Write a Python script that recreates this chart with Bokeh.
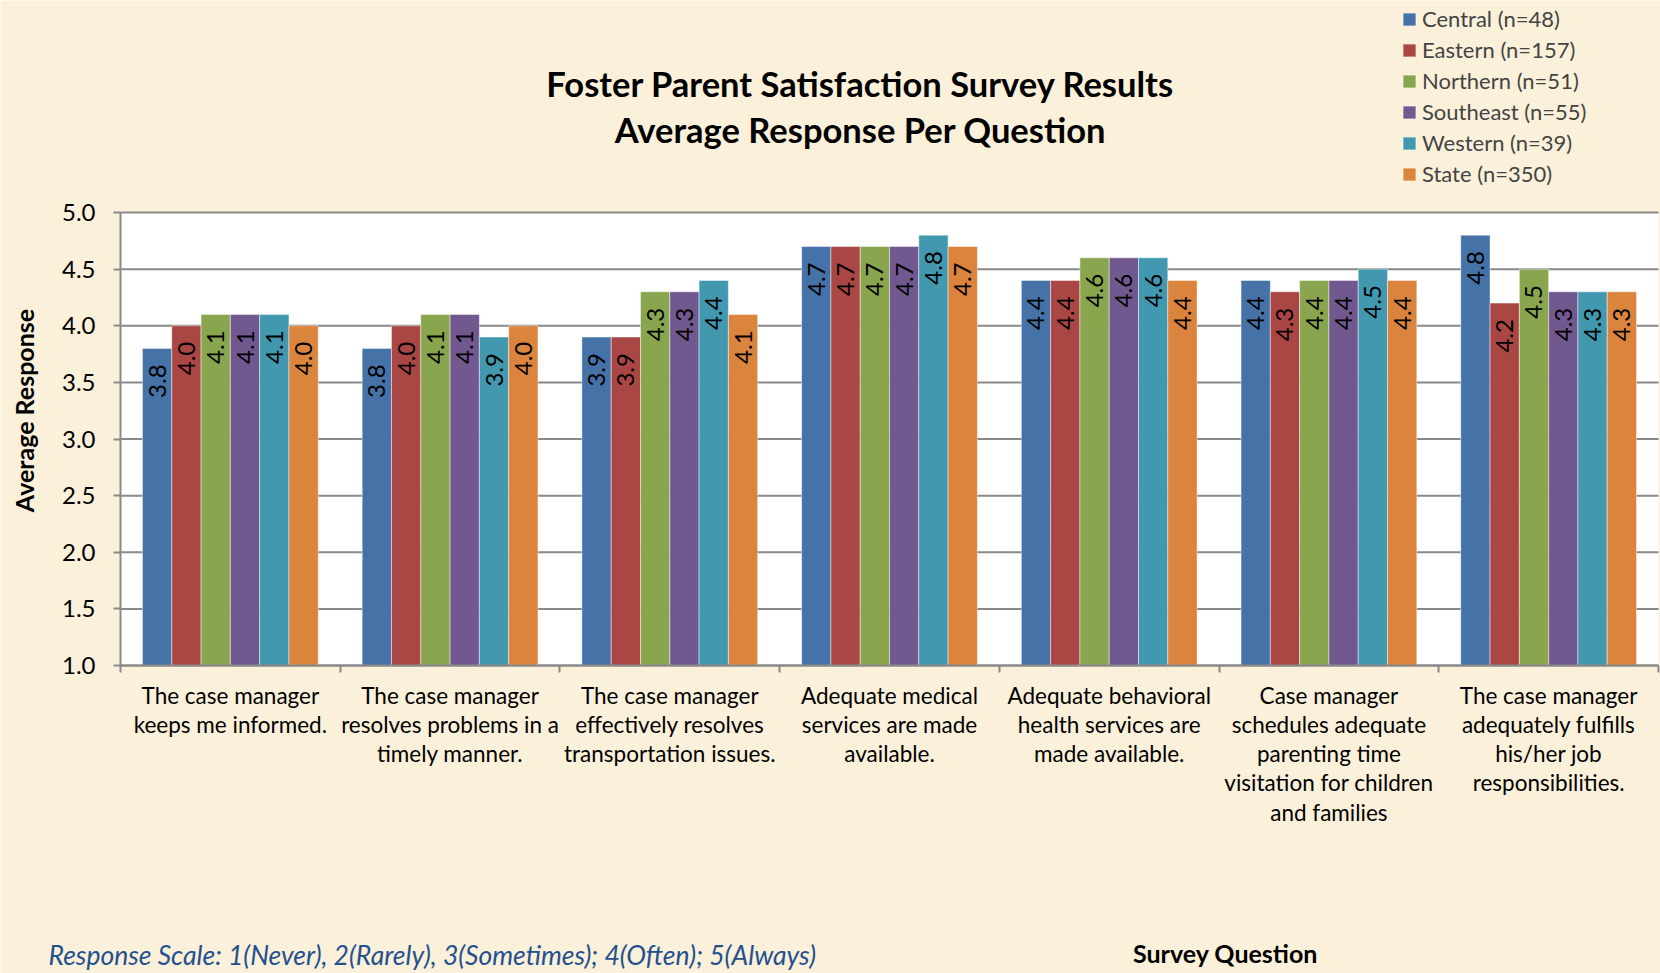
import numpy as np
from bokeh.plotting import figure
from bokeh.models import (ColumnDataSource, Range1d, FixedTicker, Legend, LegendItem,
                          Label, NumeralTickFormatter, LinearAxis, BoxAnnotation)
from bokeh.core.properties import value
from bokeh.embed import file_html
from bokeh.resources import INLINE

# ---------------- data ----------------
questions = [
    "The case manager\nkeeps me informed.",
    "The case manager\nresolves problems in a\ntimely manner.",
    "The case manager\neffectively resolves\ntransportation issues.",
    "Adequate medical\nservices are made\navailable.",
    "Adequate behavioral\nhealth services are\nmade available.",
    "Case manager\nschedules adequate\nparenting time\nvisitation for children\nand families",
    "The case manager\nadequately fulfills\nhis/her job\nresponsibilities.",
]
series_names = ["Central (n=48)", "Eastern (n=157)", "Northern (n=51)",
                "Southeast (n=55)", "Western (n=39)", "State (n=350)"]
central = [3.8, 3.8, 3.9, 4.7, 4.4, 4.4, 4.8]
eastern = [4.0, 4.0, 3.9, 4.7, 4.4, 4.3, 4.2]
northern = [4.1, 4.1, 4.3, 4.7, 4.6, 4.4, 4.5]
southeast = [4.1, 4.1, 4.3, 4.7, 4.6, 4.4, 4.3]
western = [4.1, 3.9, 4.4, 4.8, 4.6, 4.5, 4.3]
state = [4.0, 4.0, 4.1, 4.7, 4.4, 4.4, 4.3]
y_ticks = [1.0, 1.5, 2.0, 2.5, 3.0, 3.5, 4.0, 4.5, 5.0]
series_values = [central, eastern, northern, southeast, western, state]
colors = ["#4572A7", "#AA4643", "#89A54E", "#71588F", "#4198AF", "#DB843D"]

FONT = "Lato"
BG = "#FBF0D9"
GRID = "#898989"

W, H = 1660, 973
n_q = len(questions)
Y_MIN, Y_MAX = y_ticks[0], y_ticks[-1]

# pixel placement of the value area inside the canvas
PLOT_L, PLOT_R, PLOT_T, PLOT_B = 120, 1658, 212, 665
sx = (PLOT_R - PLOT_L) / n_q              # px per x unit
sy = (PLOT_B - PLOT_T) / (Y_MAX - Y_MIN)  # px per y unit

def xd(px):  # canvas px -> data x
    return (px - PLOT_L) / sx

def yd(py):  # canvas px (from top) -> data y
    return Y_MIN + (PLOT_B - py) / sy

p = figure(width=W, height=H, output_backend="svg", toolbar_location=None,
           x_range=Range1d(xd(0), xd(W)), y_range=Range1d(yd(H), yd(0)),
           x_axis_type=None, y_axis_type=None,
           min_border=0, min_border_left=0, min_border_right=0,
           min_border_top=0, min_border_bottom=0)
p.background_fill_color = BG
p.border_fill_color = BG
p.outline_line_color = None

# white plotting area
p.add_layout(BoxAnnotation(left=0, right=n_q, bottom=Y_MIN, top=Y_MAX,
                           fill_color="white", fill_alpha=1, line_color=None,
                           level="underlay"))

# horizontal gridlines
p.segment(x0=0, x1=n_q, y0=y_ticks, y1=y_ticks, line_color=GRID, line_width=2)

# bars
group_w = 0.8
bar_w = group_w / len(series_names)
centers = np.arange(n_q) + 0.5
items = []
for j, (name, vals, col) in enumerate(zip(series_names, series_values, colors)):
    xs = centers - group_w / 2 + bar_w * (j + 0.5)
    src = ColumnDataSource(dict(x=xs, top=vals, lab=["%.1f" % v for v in vals]))
    r = p.vbar(x="x", top="top", bottom=Y_MIN, width=bar_w, source=src,
               fill_color=col, line_color="white", line_alpha=0.45, line_width=1)
    p.text(x="x", y="top", text="lab", source=src, angle=np.pi / 2,
           text_align="right", text_baseline="middle", y_offset=16,
           text_font=value(FONT), text_font_size="24px", text_color="black")
    items.append(LegendItem(label=name, renderers=[r]))

# y axis
ya = LinearAxis(fixed_location=0, bounds=(Y_MIN, Y_MAX))
ya.ticker = FixedTicker(ticks=y_ticks)
ya.formatter = NumeralTickFormatter(format="0.0")
ya.axis_line_color = GRID
ya.axis_line_width = 2
ya.major_tick_line_color = GRID
ya.major_tick_line_width = 2
ya.major_tick_out = 7
ya.major_tick_in = 0
ya.minor_tick_line_color = None
ya.major_label_text_font = FONT
ya.major_label_text_font_size = "24px"
ya.major_label_text_color = "black"
ya.major_label_standoff = 18
p.add_layout(ya, "left")

# x axis
xa = LinearAxis(fixed_location=Y_MIN, bounds=(0, n_q))
xa.ticker = FixedTicker(ticks=list(centers), minor_ticks=list(range(n_q + 1)))
xa.major_label_overrides = {float(c): q for c, q in zip(centers, questions)}
xa.axis_line_color = GRID
xa.axis_line_width = 2
xa.major_tick_out = 0
xa.major_tick_in = 0
xa.minor_tick_line_color = GRID
xa.minor_tick_line_width = 2
xa.minor_tick_out = 7
xa.minor_tick_in = 0
xa.major_label_text_font = FONT
xa.major_label_text_font_size = "22.5px"
xa.major_label_text_color = "black"
xa.major_label_text_line_height = 1.085
xa.major_label_standoff = 9
p.add_layout(xa, "below")

# legend (inside the canvas-wide frame, top right)
legend = Legend(items=items, location=(1401, H - 187), orientation="vertical",
                label_text_font=FONT, label_text_font_size="22px",
                glyph_width=16, glyph_height=16, label_standoff=5,
                label_height=22, spacing=4, padding=0, margin=0,
                border_line_color=None, background_fill_alpha=0)
p.add_layout(legend, "center")

def add_label(text, px, py, align, size, style="normal", color="black", angle=0.0):
    p.add_layout(Label(x=xd(px), y=yd(py), text=text, angle=angle,
                       text_align=align, text_baseline="middle",
                       text_font=FONT, text_font_size=size,
                       text_font_style=style, text_color=color))

add_label("Foster Parent Satisfaction Survey Results", 860, 83, "center", "34.5px", "bold")
add_label("Average Response Per Question", 860, 129, "center", "34.5px", "bold")
add_label("Average Response", 23, 410, "center", "25px", "bold", angle=np.pi / 2)
add_label("Response Scale:  1(Never), 2(Rarely), 3(Sometimes); 4(Often); 5(Always)",
          48, 954, "left", "26.5px", "italic", "#24508F")
add_label("Survey Question", 1225, 952, "center", "25px", "bold")

open("out.html", "w").write(file_html(p, INLINE))
